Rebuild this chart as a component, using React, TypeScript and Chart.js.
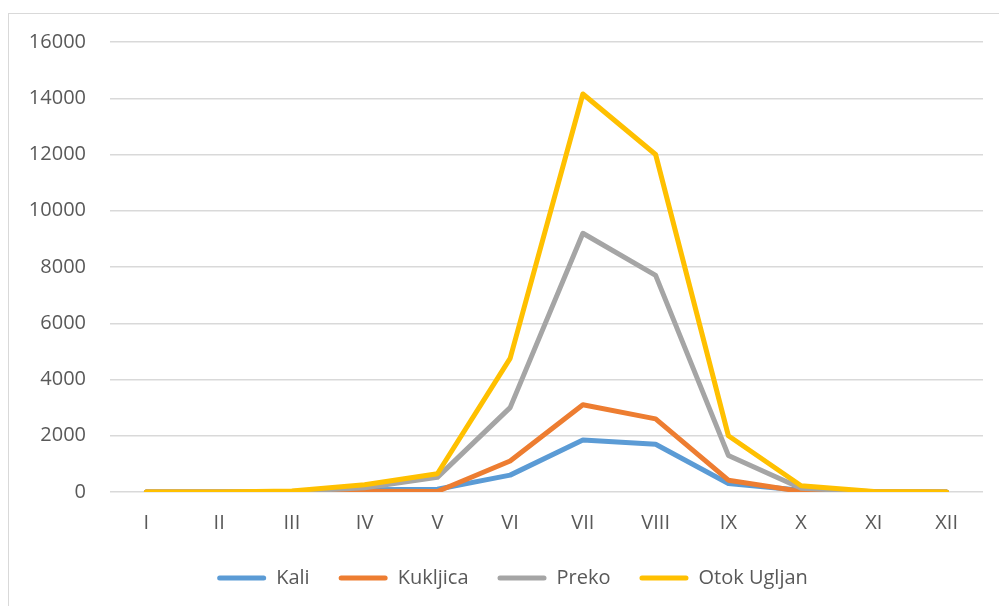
import React, { useEffect, useRef } from "react";
import { Chart, registerables } from "chart.js";

Chart.register(...registerables);

const months = ["I", "II", "III", "IV", "V", "VI", "VII", "VIII", "IX", "X", "XI", "XII"];
const kali = [0, 0, 10, 80, 100, 600, 1850, 1700, 300, 60, 5, 0];
const kukljica = [0, 0, 5, 30, 20, 1100, 3100, 2600, 420, 20, 5, 0];
const preko = [0, 0, 20, 150, 520, 3000, 9200, 7700, 1300, 130, 10, 0];
const otokUgljan = [0, 0, 40, 260, 650, 4750, 14150, 12000, 2000, 220, 20, 0];
const seriesNames = ["Kali", "Kukljica", "Preko", "Otok Ugljan"];
const seriesColors = ["#5B9BD5", "#ED7D31", "#A5A5A5", "#FFC000"];

const FONT = "'Open Sans', sans-serif";
const LEGEND_SHIFT = 21;

const frame = {
  id: "frame",
  beforeDraw(chart: any) {
    const ctx = chart.ctx;
    ctx.save();
    ctx.fillStyle = "#ffffff";
    ctx.fillRect(0, 0, chart.width, chart.height);
    ctx.strokeStyle = "#d9d9d9";
    ctx.lineWidth = 1;
    ctx.strokeRect(8.5, 13.5, chart.width + 20, chart.height + 20);
    ctx.restore();
  },
  afterLayout(chart: any) {
    const lg = chart.legend;
    if (lg) {
      lg.left += LEGEND_SHIFT;
      lg.right += LEGEND_SHIFT;
    }
  },
};

export default function App() {
  const ref = useRef<HTMLCanvasElement>(null);
  useEffect(() => {
    document.body.style.margin = "0";
    const values = [kali, kukljica, preko, otokUgljan];
    const chart = new Chart(ref.current!, {
      type: "line",
      data: {
        labels: months,
        datasets: values.map((v, i) => ({
          label: seriesNames[i],
          data: v,
          borderColor: seriesColors[i],
          backgroundColor: seriesColors[i],
          borderWidth: 5,
          pointRadius: 0,
          tension: 0,
          borderCapStyle: "round",
          borderJoinStyle: "round",
          order: 4 - i,
        })),
      },
      options: {
        animation: false,
        responsive: false,
        maintainAspectRatio: false,
        layout: { padding: { left: 0, right: 16, top: 42, bottom: 8 } },
        plugins: {
          tooltip: { enabled: false },
          legend: {
            position: "bottom",
            labels: {
              font: { family: FONT, size: 20 },
              color: "#595959",
              boxWidth: 49,
              boxHeight: 5,
              padding: 29,
              useBorderRadius: true,
              borderRadius: 2.5,
              sort: (a: any, b: any) => a.datasetIndex - b.datasetIndex,
              generateLabels: (c: any) =>
                c.data.datasets.map((d: any, i: number) => ({
                  text: d.label,
                  fillStyle: d.borderColor,
                  strokeStyle: d.borderColor,
                  lineWidth: 0,
                  fontColor: "#595959",
                  datasetIndex: i,
                  hidden: false,
                  borderRadius: 2.5,
                })),
            },
          },
        },
        scales: {
          x: {
            offset: true,
            grid: { display: false, drawTicks: false },
            border: { display: false },
            ticks: { font: { family: FONT, size: 20 }, color: "#595959", padding: 19, maxRotation: 0 },
            afterFit: (s: any) => {
              s.height = s.height - 15;
            },
          },
          y: {
            min: 0,
            max: 16000,
            grid: { color: "#d9d9d9", lineWidth: 1.5, drawTicks: false },
            border: { display: false },
            ticks: {
              stepSize: 2000,
              font: { family: FONT, size: 20 },
              color: "#595959",
              padding: 24,
              callback: (v: any) => String(v),
            },
            afterFit: (s: any) => {
              s.width = 110;
            },
          },
        },
      },
      plugins: [frame],
    });
    return () => chart.destroy();
  }, []);
  return <canvas ref={ref} width={999} height={606} style={{ display: "block" }} />;
}
